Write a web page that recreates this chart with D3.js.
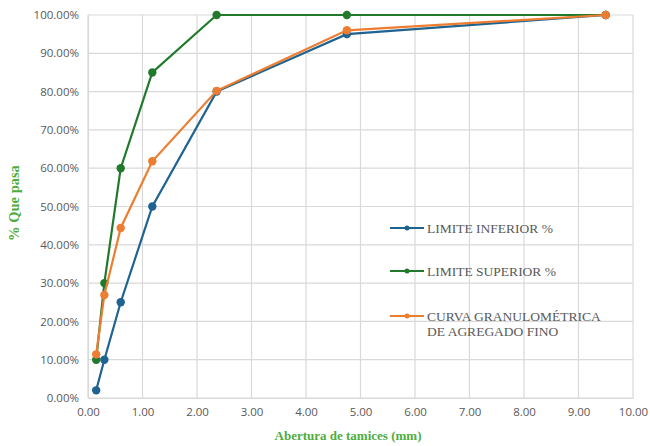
<!DOCTYPE html>
<html lang="en">
<head>
    <meta charset="UTF-8">
    <title>Curva granulometrica</title>
    <script src="https://d3js.org/d3.v7.min.js"></script>
    <style>
        body { margin: 0; background: #fff; }
        .tick text { font-family: "Open Sans", sans-serif; font-size: 11.5px; fill: #595959; }
        .legend text { font-family: "Liberation Serif", serif; font-size: 13.5px; fill: #595959; }
        .title { font-family: "Liberation Serif", serif; font-weight: bold; fill: #4ead3c; }
    </style>
</head>
<body>
    <script>
        // abertura de tamices (mm)
        var sieves = [0.15, 0.3, 0.6, 1.18, 2.36, 4.75, 9.5];
        var lowerLimit = [2, 10, 25, 50, 80, 95, 100];
        var upperLimit = [10, 30, 60, 85, 100, 100, 100];
        var fineCurve = [11.4, 26.9, 44.4, 61.8, 80.2, 96, 100];
        var xTicks = [0, 1, 2, 3, 4, 5, 6, 7, 8, 9, 10];
        var yTicks = [0, 10, 20, 30, 40, 50, 60, 70, 80, 90, 100];

        var width = 650, height = 446;
        var padLeft = 88, padRight = 633, padTop = 15, padBottom = 398;

        var series = [
            { name: 'LIMITE INFERIOR %', values: lowerLimit, color: '#1f6391' },
            { name: 'LIMITE SUPERIOR %', values: upperLimit, color: '#217a2c' },
            { name: 'CURVA GRANULOMÉTRICA|DE AGREGADO FINO', values: fineCurve, color: '#ed7d31' }
        ];

        var svg = d3.select('body').append('svg')
            .attr('width', width)
            .attr('height', height);

        var x = d3.scaleLinear().domain([0, 10]).range([padLeft, padRight]);
        var y = d3.scaleLinear().domain([0, 100]).range([padBottom, padTop]);

        // grid
        svg.append('g').selectAll('line')
            .data(xTicks).enter().append('line')
            .attr('x1', d => x(d)).attr('x2', d => x(d))
            .attr('y1', padTop).attr('y2', padBottom)
            .attr('stroke', '#d9d9d9').attr('stroke-width', 1.2);
        svg.append('g').selectAll('line')
            .data(yTicks).enter().append('line')
            .attr('x1', padLeft).attr('x2', padRight)
            .attr('y1', d => y(d)).attr('y2', d => y(d))
            .attr('stroke', '#d9d9d9').attr('stroke-width', 1.2);

        var xAxis = d3.axisBottom(x).tickValues(xTicks).tickFormat(d3.format('.2f')).tickSize(0).tickPadding(10);
        var yAxis = d3.axisLeft(y).tickValues(yTicks).tickFormat(d => d3.format('.2f')(d) + '%').tickSize(0).tickPadding(9);

        svg.append('g').attr('transform', 'translate(0,' + padBottom + ')').call(xAxis)
            .call(g => g.select('.domain').attr('stroke', '#d9d9d9').attr('stroke-width', 1.2));
        svg.append('g').attr('transform', 'translate(' + padLeft + ',0)').call(yAxis)
            .call(g => g.select('.domain').attr('stroke', '#d9d9d9').attr('stroke-width', 1.2));

        var line = d3.line().x(d => x(d[0])).y(d => y(d[1]));

        series.forEach(function (s) {
            var pts = sieves.map((v, i) => [v, s.values[i]]);
            svg.append('path')
                .datum(pts)
                .attr('d', line)
                .attr('fill', 'none')
                .attr('stroke', s.color)
                .attr('stroke-width', 2.2);
            svg.append('g').selectAll('circle')
                .data(pts).enter().append('circle')
                .attr('cx', d => x(d[0]))
                .attr('cy', d => y(d[1]))
                .attr('r', 4.2)
                .attr('fill', s.color);
        });

        // legend
        var legendY = [228, 271, 316];
        var legend = svg.append('g').attr('class', 'legend');
        series.forEach(function (s, i) {
            var g = legend.append('g').attr('transform', 'translate(390,' + legendY[i] + ')');
            g.append('line').attr('x1', 0).attr('x2', 34).attr('y1', 0).attr('y2', 0)
                .attr('stroke', s.color).attr('stroke-width', 2.2);
            g.append('circle').attr('cx', 17).attr('cy', 0).attr('r', 2.5).attr('fill', s.color);
            var t = g.append('text').attr('x', 37).attr('y', 4.5);
            s.name.split('|').forEach(function (part, j) {
                t.append('tspan').attr('x', 37).attr('dy', j == 0 ? 0 : 15).text(part);
            });
        });

        // axis titles
        svg.append('text').attr('class', 'title')
            .attr('text-anchor', 'middle')
            .style('font-size', '13px')
            .attr('x', 348).attr('y', 440)
            .text('Abertura de tamices (mm)');
        svg.append('text').attr('class', 'title')
            .attr('text-anchor', 'middle')
            .style('font-size', '14.5px')
            .attr('transform', 'translate(19,203) rotate(-90)')
            .text('% Que pasa');
    </script>
</body>
</html>
